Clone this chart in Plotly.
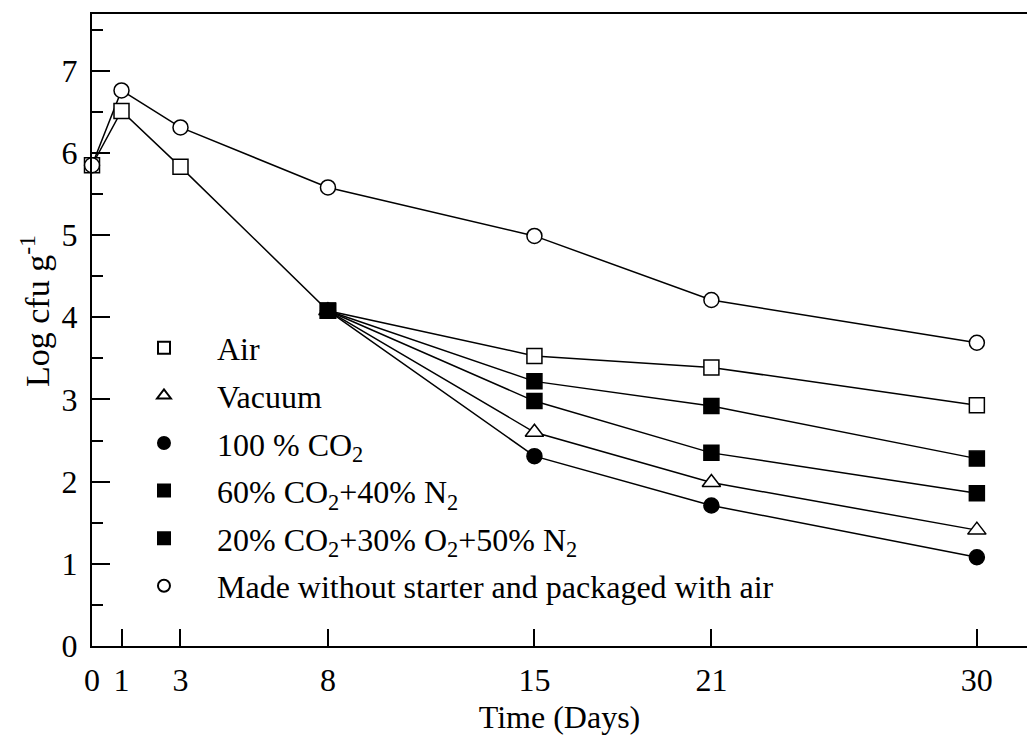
import plotly.graph_objects as go

# ---- data ----
days_all = [0, 1, 3, 8, 15, 21, 30]
days_pack = [8, 15, 21, 30]
air = [5.85, 6.51, 5.83, 4.08, 3.53, 3.39, 2.93]
no_starter = [5.85, 6.76, 6.31, 5.58, 4.99, 4.21, 3.69]
vacuum = [4.08, 2.60, 1.99, 1.41]
co2_100 = [4.08, 2.31, 1.71, 1.08]
co2_60 = [4.08, 2.98, 2.35, 1.86]
co2_20 = [4.08, 3.22, 2.92, 2.28]

x_ticks = [0, 1, 3, 8, 15, 21, 30]
y_ticks = [0, 1, 2, 3, 4, 5, 6, 7]

FONT = "Liberation Serif, Times New Roman, serif"
FS = 32

series = [
    # name, x, y, symbol, fill, legendrank
    ("Air", days_all, air, "square", "white", 1),
    ("Made without starter and packaged with air", days_all, no_starter, "circle", "white", 6),
    ("Vacuum", days_pack, vacuum, "triangle-up", "white", 2),
    ("100 % CO<sub>2</sub>", days_pack, co2_100, "circle", "black", 3),
    ("60% CO<sub>2</sub>+40% N<sub>2</sub>", days_pack, co2_60, "square", "black", 4),
    ("20% CO<sub>2</sub>+30% O<sub>2</sub>+50% N<sub>2</sub>", days_pack, co2_20, "square", "black", 5),
]

fig = go.Figure()
for name, x, y, sym, fill, rank in series:
    fig.add_trace(go.Scatter(x=x, y=y, mode="lines", showlegend=False,
                             line=dict(color="black", width=1.5), hoverinfo="skip"))
for name, x, y, sym, fill, rank in series:
    fig.add_trace(go.Scatter(
        x=x, y=y, mode="markers", name=name, legendrank=rank,
        legendgroup=name, cliponaxis=False,
        marker=dict(symbol=sym, size=15 if sym != "triangle-up" else 16,
                    color=fill, line=dict(color="black", width=1.5)),
    ))

fig.update_layout(
    width=1027, height=736,
    margin=dict(l=92, r=0, t=14, b=90),
    paper_bgcolor="white", plot_bgcolor="white",
    font=dict(family=FONT, size=FS, color="black"),
    showlegend=True,
    legend=dict(
        x=0.0203, y=0.515, xanchor="left", yanchor="top",
        bgcolor="rgba(0,0,0,0)", borderwidth=0,
        font=dict(family=FONT, size=FS, color="black"),
        itemsizing="constant", itemwidth=96, tracegroupgap=3,
    ),
    xaxis=dict(
        range=[0, 31.7], tickmode="array", tickvals=x_ticks,
        ticktext=[str(v) for v in x_ticks],
        ticks="inside", ticklen=17, tickwidth=1.5, tickcolor="black",
        showline=True, linewidth=2, linecolor="black", mirror=True,
        showgrid=False, zeroline=False, ticklabelstandoff=5,
        title=dict(text="Time (Days)", font=dict(size=FS), standoff=8),
        tickfont=dict(size=FS),
    ),
    yaxis=dict(
        range=[0, 7.69], tickmode="array", tickvals=y_ticks,
        ticks="inside", ticklen=18, tickwidth=2, tickcolor="black",
        minor=dict(tickvals=[0.5, 1.5, 2.5, 3.5, 4.5, 5.5, 6.5, 7.5],
                   ticks="inside", ticklen=11, tickwidth=2, tickcolor="black"),
        showline=True, linewidth=2, linecolor="black", mirror=False,
        showgrid=False, zeroline=False, ticklabelstandoff=6,
        tickfont=dict(size=FS),
    ),
    yaxis2=dict(
        overlaying="y", side="right", anchor="x", matches="y",
        range=[0, 7.69], tickmode="array", tickvals=y_ticks,
        ticks="inside", ticklen=14, tickwidth=2, tickcolor="black",
        showticklabels=False, showline=False, showgrid=False, zeroline=False,
    ),
    annotations=[dict(
        text="Log cfu g<sup>-1</sup>", textangle=-90, showarrow=False,
        xref="paper", yref="paper", x=-0.061, y=0.53,
        xanchor="center", yanchor="middle",
        font=dict(family=FONT, size=34, color="black"),
    )],
)

fig.write_html("out.html")
